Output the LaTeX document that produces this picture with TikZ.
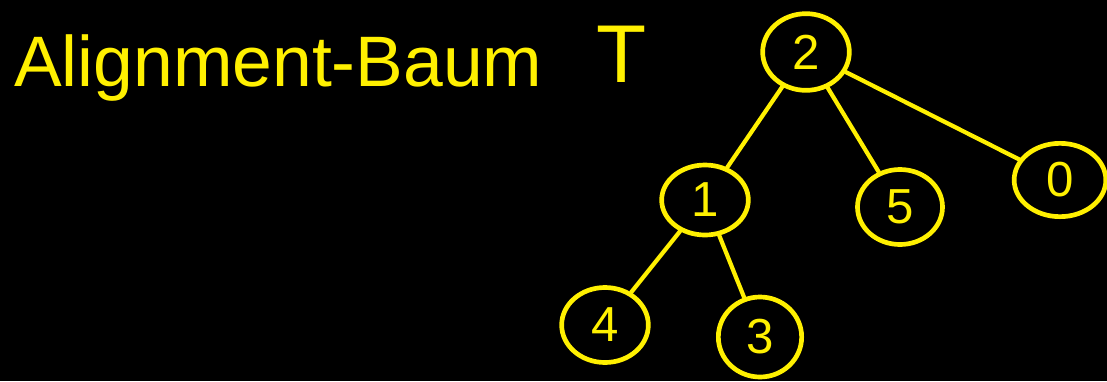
\documentclass[tikz,border=0pt]{standalone}
\usepackage{fontspec}
\setmainfont{Liberation Sans}
\usetikzlibrary{shapes.geometric}
\definecolor{pen}{RGB}{255,240,0}
\tikzset{
  tn/.style={draw=pen, line width=4pt, ellipse, text=pen, font=\fontsize{42}{42}\selectfont, inner sep=0pt},
  edge/.style={draw=pen, line width=3.6pt, line cap=round},
}
\begin{document}
\begin{tikzpicture}[x=0.03cm,y=-0.03cm]
\fill[black] (0,0) rectangle (1107,381);
\useasboundingbox (0,0) rectangle (1107,381);
\node[text=pen, anchor=base west, font=\fontsize{61}{61}\selectfont] (title) at (10,86) {Alignment-Baum};
\node[text=pen, anchor=base, font=\fontsize{70}{70}\selectfont] (T) at (622,82) {T};
\node[tn, minimum width=2.6cm, minimum height=2.3cm] (n2) at (806,52) {2};
\node[tn, minimum width=2.6cm, minimum height=2.1cm] (n1) at (705,200) {1};
\node[tn, minimum width=2.55cm, minimum height=2.25cm] (n5) at (900,207) {5};
\node[tn, minimum width=2.75cm, minimum height=2.2cm] (n0) at (1060,180) {0};
\node[tn, minimum width=2.6cm, minimum height=2.25cm] (n4) at (605,325) {4};
\node[tn, minimum width=2.5cm, minimum height=2.4cm] (n3) at (760,337) {3};
\draw[edge] (n2) -- (n1);
\draw[edge] (n2) -- (n5);
\draw[edge] (n2) -- (n0);
\draw[edge] (n1) -- (n4);
\draw[edge] (n1) -- (n3);
\end{tikzpicture}
\end{document}
